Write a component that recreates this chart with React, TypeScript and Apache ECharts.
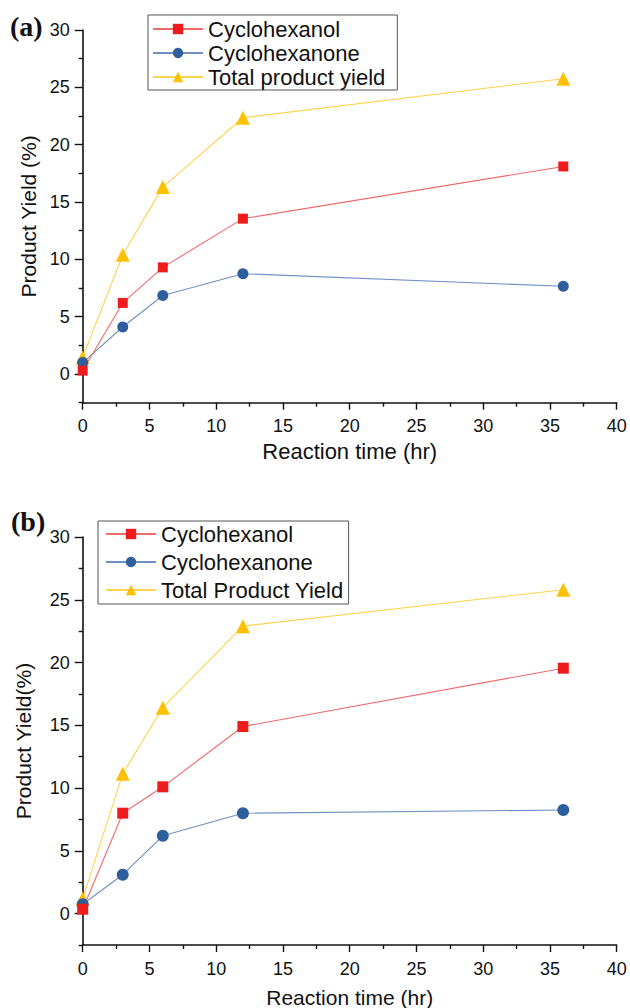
import React, { useEffect, useRef } from "react";
import * as echarts from "echarts";

const timesA = [0, 3, 6, 12, 36];
const cyclohexanolA = [0.3, 6.2, 9.3, 13.55, 18.1];
const cyclohexanoneA = [1.0, 4.1, 6.85, 8.75, 7.65];
const totalA = [1.45, 10.4, 16.3, 22.35, 25.75];

const timesB = [0, 3, 6, 12, 36];
const cyclohexanolB = [0.35, 8.0, 10.1, 14.9, 19.55];
const cyclohexanoneB = [0.75, 3.1, 6.2, 8.0, 8.25];
const totalB = [1.2, 11.15, 16.4, 22.9, 25.8];

const yMajorTicks = [0, 5, 10, 15, 20, 25, 30];
const yMinorTicks = [-2.5, 2.5, 7.5, 12.5, 17.5, 22.5, 27.5];
const legendA = ["Cyclohexanol", "Cyclohexanone", "Total product yield"];
const legendB = ["Cyclohexanol", "Cyclohexanone", "Total Product Yield"];

const FONT = "'Liberation Sans', Arial, sans-serif";
const RED = "#ee1c1c";
const RED_LINE = "#f06a6a";
const BLUE = "#2e5f9c";
const BLUE_LINE = "#6f90c4";
const YEL = "#ffc000";
const YEL_LINE = "#ffd34f";

function pairs(xs: number[], ys: number[]) {
  return xs.map((x, i) => [x, ys[i]]);
}

export default function App() {
  const ref = useRef<HTMLDivElement>(null);
  useEffect(() => {
    if (!ref.current) return;
    const chart = echarts.init(ref.current, null, { renderer: "svg" });

    const mkX = (gridIndex: number, margin: number, nameGap: number, nameSize: number) => ({
      type: "value",
      gridIndex,
      min: 0,
      max: 40,
      interval: 5,
      name: "Reaction time (hr)",
      nameLocation: "middle",
      nameGap,
      nameTextStyle: { fontFamily: FONT, fontSize: nameSize, color: "#111" },
      axisLine: { show: true, onZero: false, lineStyle: { color: "#111", width: 1.6 } },
      axisTick: { show: true, inside: false, length: 7, lineStyle: { color: "#111", width: 1.4 } },
      minorTick: { show: true, splitNumber: 2, length: 4, lineStyle: { color: "#111", width: 1.4 } },
      axisLabel: { fontFamily: FONT, fontSize: 18, color: "#111", margin },
      splitLine: { show: false },
    });

    const mkYMain = (gridIndex: number, name: string, nameGap: number, nameSize: number) => ({
      type: "value",
      gridIndex,
      min: -2.5,
      max: 30,
      name,
      nameLocation: "middle",
      nameGap,
      nameRotate: 90,
      nameTextStyle: { fontFamily: FONT, fontSize: nameSize, color: "#111" },
      axisLine: { show: true, onZero: false, lineStyle: { color: "#111", width: 1.6 } },
      axisTick: { show: true, inside: false, length: 8, customValues: yMajorTicks, lineStyle: { color: "#111", width: 1.4 } },
      axisLabel: { fontFamily: FONT, fontSize: 18, color: "#111", margin: 13, customValues: yMajorTicks },
      splitLine: { show: false },
    });

    const mkYMinor = (gridIndex: number) => ({
      type: "value",
      gridIndex,
      min: -2.5,
      max: 30,
      position: "left",
      axisLine: { show: false },
      axisTick: { show: true, inside: false, length: 4, customValues: yMinorTicks, lineStyle: { color: "#111", width: 1.4 } },
      axisLabel: { show: false },
      splitLine: { show: false },
    });

    const mkSeries = (
      name: string,
      xs: number[],
      ys: number[],
      idx: number,
      symbol: string,
      size: number,
      color: string,
      lineColor: string
    ) => ({
      type: "line",
      name,
      xAxisIndex: idx,
      yAxisIndex: idx,
      data: pairs(xs, ys),
      symbol,
      symbolSize: size,
      showAllSymbol: true,
      itemStyle: { color, borderWidth: 0 },
      lineStyle: { color: lineColor, width: 1.1 },
      emphasis: { disabled: true },
      clip: false,
    });

    chart.setOption({
      animation: false,
      backgroundColor: "#fff",
      grid: [
        { left: 82.7, top: 30, width: 534, height: 372.7, outerBoundsMode: "none", containLabel: false },
        { left: 82.7, top: 537, width: 534, height: 408, outerBoundsMode: "none", containLabel: false },
      ],
      xAxis: [mkX(0, 14, 38, 22), mkX(1, 15, 42, 21)],
      yAxis: [
        mkYMain(0, "Product Yield (%)", 39, 21),
        mkYMain(1, "Product Yield(%)", 49, 21),
        mkYMinor(0),
        mkYMinor(1),
      ],
      legend: [
        {
          data: legendA,
          orient: "vertical",
          left: 148,
          top: 15,
          itemWidth: 50,
          itemHeight: 13,
          itemGap: 2,
          padding: [3, 12, 2, 4],
          borderColor: "#555",
          borderWidth: 1,
          selectedMode: false,
          textStyle: { fontFamily: FONT, fontSize: 22, color: "#111", lineHeight: 22 },
        },
        {
          data: legendB,
          orient: "vertical",
          left: 98,
          top: 521,
          itemWidth: 50,
          itemHeight: 13,
          itemGap: 4,
          padding: [1, 5, 2, 7],
          borderColor: "#555",
          borderWidth: 1,
          selectedMode: false,
          textStyle: { fontFamily: FONT, fontSize: 22, color: "#111", lineHeight: 24 },
        },
      ],
      graphic: [
        {
          type: "text",
          left: 10,
          top: 12,
          style: { text: "(a)", font: "bold 28px 'Liberation Serif', 'Times New Roman', serif", fill: "#111" },
        },
        {
          type: "text",
          left: 11,
          top: 507,
          style: { text: "(b)", font: "bold 28px 'Liberation Serif', 'Times New Roman', serif", fill: "#111" },
        },
      ],
      series: [
        mkSeries("Total product yield", timesA, totalA, 0, "triangle", 14, YEL, YEL_LINE),
        mkSeries("Cyclohexanone", timesA, cyclohexanoneA, 0, "circle", 11, BLUE, BLUE_LINE),
        mkSeries("Cyclohexanol", timesA, cyclohexanolA, 0, "rect", 10, RED, RED_LINE),
        mkSeries("Total Product Yield", timesB, totalB, 1, "triangle", 14, YEL, YEL_LINE),
        mkSeries("Cyclohexanone", timesB, cyclohexanoneB, 1, "circle", 12, BLUE, BLUE_LINE),
        mkSeries("Cyclohexanol", timesB, cyclohexanolB, 1, "rect", 11, RED, RED_LINE),
      ],
    });
    return () => chart.dispose();
  }, []);
  return (
    <div
      ref={ref}
      style={{ position: "fixed", left: 0, top: 0, width: 630, height: 1008, background: "#fff" }}
    />
  );
}
